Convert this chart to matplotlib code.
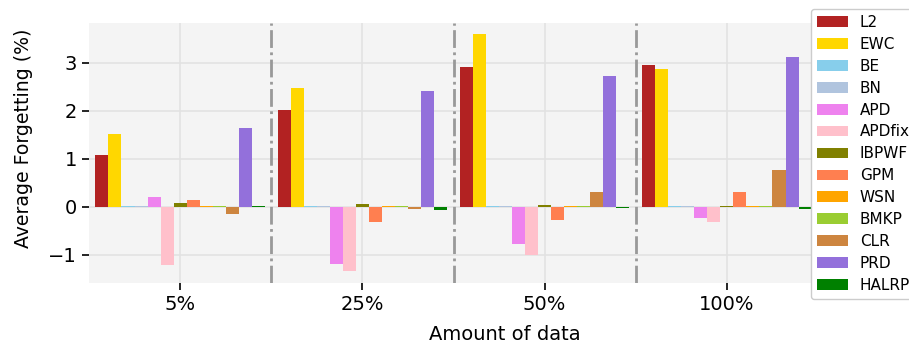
import numpy as np
import matplotlib
matplotlib.use("Agg")
import matplotlib.pyplot as plt

groups = ["5%", "25%", "50%", "100%"]
methods = ["L2", "EWC", "BE", "BN", "APD", "APDfix", "IBPWF", "GPM",
           "WSN", "BMKP", "CLR", "PRD", "HALRP"]
colors = ["firebrick", "gold", "skyblue", "lightsteelblue", "violet", "pink",
          "olive", "coral", "orange", "yellowgreen", "peru", "mediumpurple",
          "green"]

# average forgetting per method, one value per data amount
forgetting = {
    "L2":     [1.08, 2.01, 2.91, 2.95],
    "EWC":    [1.51, 2.47, 3.60, 2.87],
    "BE":     [0.01, 0.01, 0.01, 0.01],
    "BN":     [0.01, 0.01, 0.01, 0.01],
    "APD":    [0.20, -1.19, -0.78, -0.23],
    "APDfix": [-1.22, -1.34, -1.00, -0.31],
    "IBPWF":  [0.08, 0.06, 0.03, 0.01],
    "GPM":    [0.14, -0.32, -0.28, 0.31],
    "WSN":    [0.01, 0.01, 0.01, 0.01],
    "BMKP":   [0.01, 0.01, 0.01, 0.01],
    "CLR":    [-0.15, -0.05, 0.31, 0.77],
    "PRD":    [1.64, 2.42, 2.72, 3.12],
    "HALRP":  [0.02, -0.07, -0.02, -0.04],
}

fig = plt.figure(figsize=(9.09, 3.49), dpi=100)
ax = fig.add_axes([89 / 909, 1 - 283 / 349, 729 / 909, 260 / 349])
ax.set_facecolor("#f4f4f4")
ax.set_axisbelow(True)
ax.grid(True, color="#e2e2e2", linewidth=1.2)
for s in ax.spines.values():
    s.set_visible(False)

x = np.arange(len(groups))
w = 0.0715
n = len(methods)
for i, m in enumerate(methods):
    off = (i - (n - 1) / 2) * w
    ax.bar(x + off, forgetting[m], w, color=colors[i], label=m)

for b in [0.5, 1.5, 2.5]:
    ax.axvline(b, color="#999999", linestyle="-.", linewidth=2, zorder=3)

ax.set_xlim(-0.5, 3.5)
ax.set_ylim(-1.59, 3.83)
ax.set_xticks(x)
ax.set_xticklabels(groups, fontsize=14)
ax.set_yticks([-1, 0, 1, 2, 3])
ax.tick_params(axis="y", labelsize=14, length=5, width=1.2)
ax.tick_params(axis="x", length=5, width=1.2)
ax.set_xlabel("Amount of data", fontsize=14)
ax.set_ylabel("Average Forgetting (%)", fontsize=13.6)
# labels sit off-centre in the original
ax.xaxis.set_label_coords(0.571, -0.16)
ax.yaxis.set_label_coords(-0.077, 0.558)

fig.legend(loc="upper left", bbox_to_anchor=(811 / 909, 1 - 9 / 349),
           fontsize=11, framealpha=1, edgecolor="#cccccc",
           handlelength=2.0, labelspacing=0.45, borderaxespad=0)

fig.savefig("out.png", dpi=100)
